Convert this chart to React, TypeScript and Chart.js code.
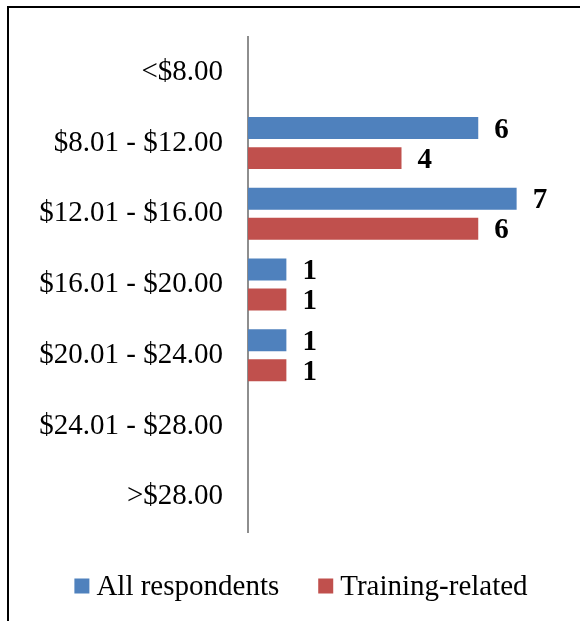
import React, { useEffect, useRef } from 'react';
import { Chart, registerables } from 'chart.js';

Chart.register(...registerables);

const categories = [
  '<$8.00',
  '$8.01 - $12.00',
  '$12.01 - $16.00',
  '$16.01 - $20.00',
  '$20.01 - $24.00',
  '$24.01 - $28.00',
  '>$28.00',
];
const allRespondents = [0, 6, 7, 1, 1, 0, 0];
const trainingRelated = [0, 4, 6, 1, 1, 0, 0];
const seriesNames = ['All respondents', 'Training-related'];
const seriesColors = ['#4F81BD', '#C0504D'];
const xMin = 0;
const xMax = 8;

const FONT_FAMILY = "'Times New Roman', 'Liberation Serif', serif";

const framePlugin = {
  id: 'frame',
  beforeDraw(chart: any) {
    const ctx = chart.ctx;
    ctx.save();
    ctx.fillStyle = '#ffffff';
    ctx.fillRect(0, 0, chart.width, chart.height);
    ctx.strokeStyle = '#000000';
    ctx.lineWidth = 2;
    ctx.strokeRect(8, 7, chart.width + 20, chart.height + 20);
    ctx.restore();
  },
};

const dataLabelPlugin = {
  id: 'barValueLabels',
  afterDatasetsDraw(chart: any) {
    const ctx = chart.ctx;
    ctx.save();
    ctx.font = `bold 29px ${FONT_FAMILY}`;
    ctx.fillStyle = '#000000';
    ctx.textAlign = 'left';
    ctx.textBaseline = 'middle';
    chart.data.datasets.forEach((ds: any, di: number) => {
      const meta = chart.getDatasetMeta(di);
      meta.data.forEach((el: any, i: number) => {
        const v = ds.data[i];
        if (!v) return;
        ctx.fillText(String(v), el.x + 16, el.y + 2);
      });
    });
    ctx.restore();
  },
};

const customLegendPlugin = {
  id: 'customLegend',
  afterDraw(chart: any) {
    const ctx = chart.ctx;
    ctx.save();
    ctx.font = `29px ${FONT_FAMILY}`;
    ctx.textBaseline = 'middle';
    ctx.textAlign = 'left';
    const box = 15;
    const boxGap = 7;
    const itemGap = 39;
    const widths = seriesNames.map((n) => ctx.measureText(n).width);
    const total =
      widths.reduce((a, w) => a + box + boxGap + w, 0) + itemGap * (seriesNames.length - 1);
    let x = 301 - total / 2;
    const cy = 586;
    seriesNames.forEach((name, i) => {
      ctx.fillStyle = seriesColors[i];
      ctx.fillRect(x, cy - box / 2, box, box);
      x += box + boxGap;
      ctx.fillStyle = '#000000';
      ctx.fillText(name, x, cy + 1);
      x += widths[i] + itemGap;
    });
    ctx.restore();
  },
};

export default function App() {
  const canvasRef = useRef<HTMLCanvasElement | null>(null);

  useEffect(() => {
    if (!canvasRef.current) return;
    const chart = new Chart(canvasRef.current, {
      type: 'bar',
      data: {
        labels: categories,
        datasets: [
          {
            label: seriesNames[0],
            data: allRespondents,
            backgroundColor: seriesColors[0],
            categoryPercentage: 0.85,
            barPercentage: 0.73,
          },
          {
            label: seriesNames[1],
            data: trainingRelated,
            backgroundColor: seriesColors[1],
            categoryPercentage: 0.85,
            barPercentage: 0.73,
          },
        ],
      },
      options: {
        indexAxis: 'y',
        responsive: false,
        animation: false,
        devicePixelRatio: 1,
        layout: { padding: { left: 0, right: 25, top: 37, bottom: 89 } },
        plugins: {
          legend: { display: false },
          tooltip: { enabled: false },
        },
        scales: {
          x: {
            type: 'linear',
            min: xMin,
            max: xMax,
            display: false,
          },
          y: {
            type: 'category',
            position: 'left',
            grid: { display: false, drawTicks: false },
            border: { display: true, color: '#8e8e8e', width: 2 },
            ticks: {
              padding: 25,
              color: '#000000',
              font: { family: FONT_FAMILY, size: 29 },
            },
            afterFit(scale: any) {
              scale.width = 248;
              scale.paddingTop = 0;
              scale.paddingBottom = 0;
            },
          },
        },
      },
      plugins: [framePlugin, dataLabelPlugin, customLegendPlugin],
    } as any);
    return () => chart.destroy();
  }, []);

  return (
    <div style={{ position: 'fixed', left: 0, top: 0, width: 580, height: 621 }}>
      <canvas ref={canvasRef} width={580} height={621} />
    </div>
  );
}
